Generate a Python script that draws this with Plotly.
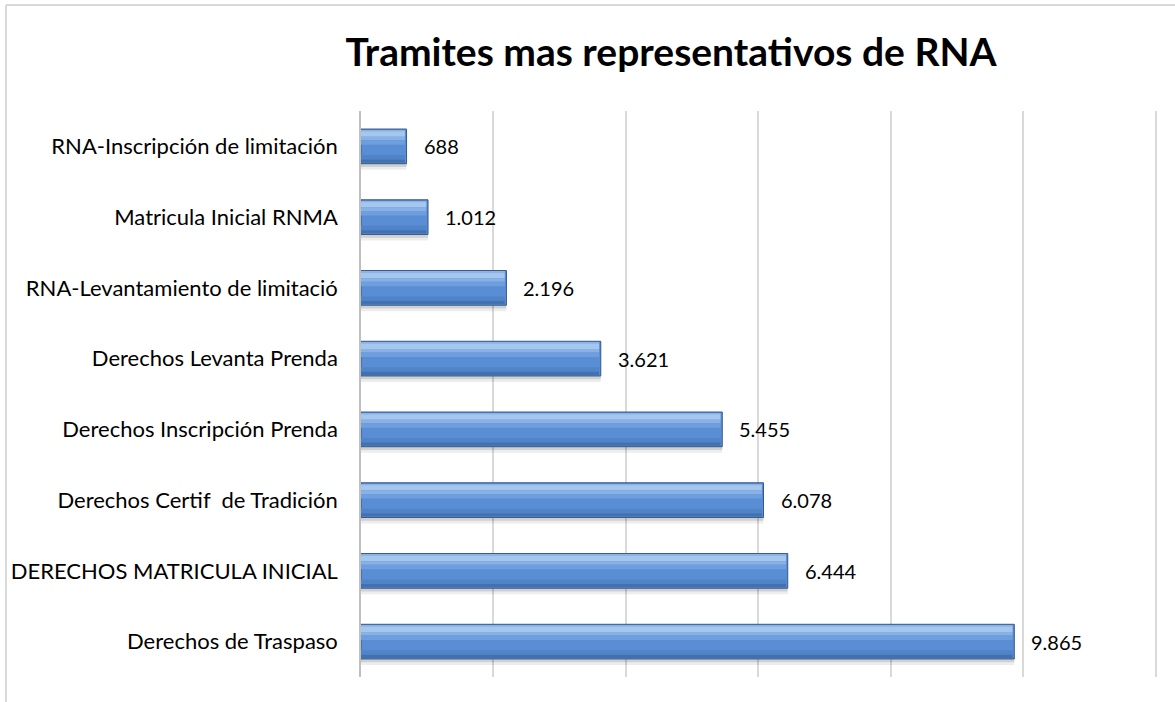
import plotly.graph_objects as go

# data, top bar first
tramites = [
    "RNA-Inscripción de limitación",
    "Matricula Inicial RNMA",
    "RNA-Levantamiento de limitació",
    "Derechos Levanta Prenda",
    "Derechos Inscripción Prenda",
    "Derechos Certif  de Tradición",
    "DERECHOS MATRICULA INICIAL",
    "Derechos de Traspaso",
]
cantidades = [688, 1012, 2196, 3621, 5455, 6078, 6444, 9865]

W, H = 1175, 702
L, R, T, B = 361, 18, 111, 25
FONT = "Lato"
BAR_W = 0.49
TOP = -BAR_W / 2

fig = go.Figure()

# soft shadow under each bar
for extra, col in [(0.085, "rgba(0,0,0,0.07)"), (0.045, "rgba(0,0,0,0.12)")]:
    fig.add_trace(go.Bar(
        x=cantidades, y=tramites, orientation="h",
        width=BAR_W + extra - 0.02, offset=TOP + 0.02,
        marker=dict(color=col, line=dict(width=0)),
        hoverinfo="skip", showlegend=False,
    ))

# main bar body
fig.add_trace(go.Bar(
    x=cantidades, y=tramites, orientation="h",
    width=BAR_W, offset=TOP,
    marker=dict(color="#5A8ED4", line=dict(color="#35598A", width=1)),
    showlegend=False,
))

# horizontal strips faking the bevel gradient (fractions of bar height)
for f0, f1, col in [
    (0.04, 0.07, "#8DB3E4"),
    (0.07, 0.22, "#A5C7EE"),
    (0.22, 0.32, "#88B1E6"),
    (0.32, 0.45, "#6E9EDD"),
    (0.75, 0.88, "#5083C8"),
    (0.88, 0.97, "#4271B0"),
]:
    fig.add_trace(go.Bar(
        x=[v - 25 for v in cantidades], y=tramites, orientation="h",
        width=BAR_W * (f1 - f0), offset=TOP + BAR_W * f0,
        marker=dict(color=col, line=dict(width=0)),
        hoverinfo="skip", showlegend=False,
    ))

for t, v in zip(tramites, cantidades):
    fig.add_annotation(
        x=v, y=t, text=f"{v:,}".replace(",", "."),
        xanchor="left", yanchor="middle", xshift=15, yshift=0,
        showarrow=False, font=dict(family=FONT, size=20, color="#000000"),
    )

fig.update_layout(
    width=W, height=H,
    margin=dict(l=L, r=R, t=T, b=B),
    barmode="overlay",
    plot_bgcolor="white",
    paper_bgcolor="white",
    font=dict(family=FONT, size=20, color="#000000"),
    title=dict(
        text="<b>Tramites mas representativos de RNA</b>",
        x=671 / W, xanchor="center",
        y=1 - 52 / H, yanchor="middle",
        font=dict(family=FONT, size=39, color="#000000"),
    ),
)

fig.update_xaxes(
    range=[0, 12020], dtick=2000,
    showticklabels=False, showgrid=True,
    gridcolor="#D9D9D9", gridwidth=1.5,
    zeroline=False, showline=False,
)
fig.update_yaxes(
    autorange="reversed",
    showgrid=False, showline=True, linecolor="#BFBFBF", linewidth=1.5,
    ticks="", ticklabelstandoff=17,
    tickfont=dict(family=FONT, size=22, color="#000000"),
)

# outer chart frame (left and top edges are visible)
pw, ph = W - L - R, H - T - B
fx = (6 - L) / pw
fy_top = (H - B - 5) / ph
fy_bot = (H - B - H - 10) / ph
fig.add_shape(type="line", xref="paper", yref="paper",
              x0=fx, x1=(W + 10 - L) / pw, y0=fy_top, y1=fy_top,
              line=dict(color="#D9D9D9", width=2))
fig.add_shape(type="line", xref="paper", yref="paper",
              x0=fx, x1=fx, y0=fy_bot, y1=fy_top,
              line=dict(color="#D9D9D9", width=2))

fig.write_html(
    "out.html",
    config={"displayModeBar": False},
    post_script="document.body.style.margin='0';document.body.style.overflow='hidden';",
)
